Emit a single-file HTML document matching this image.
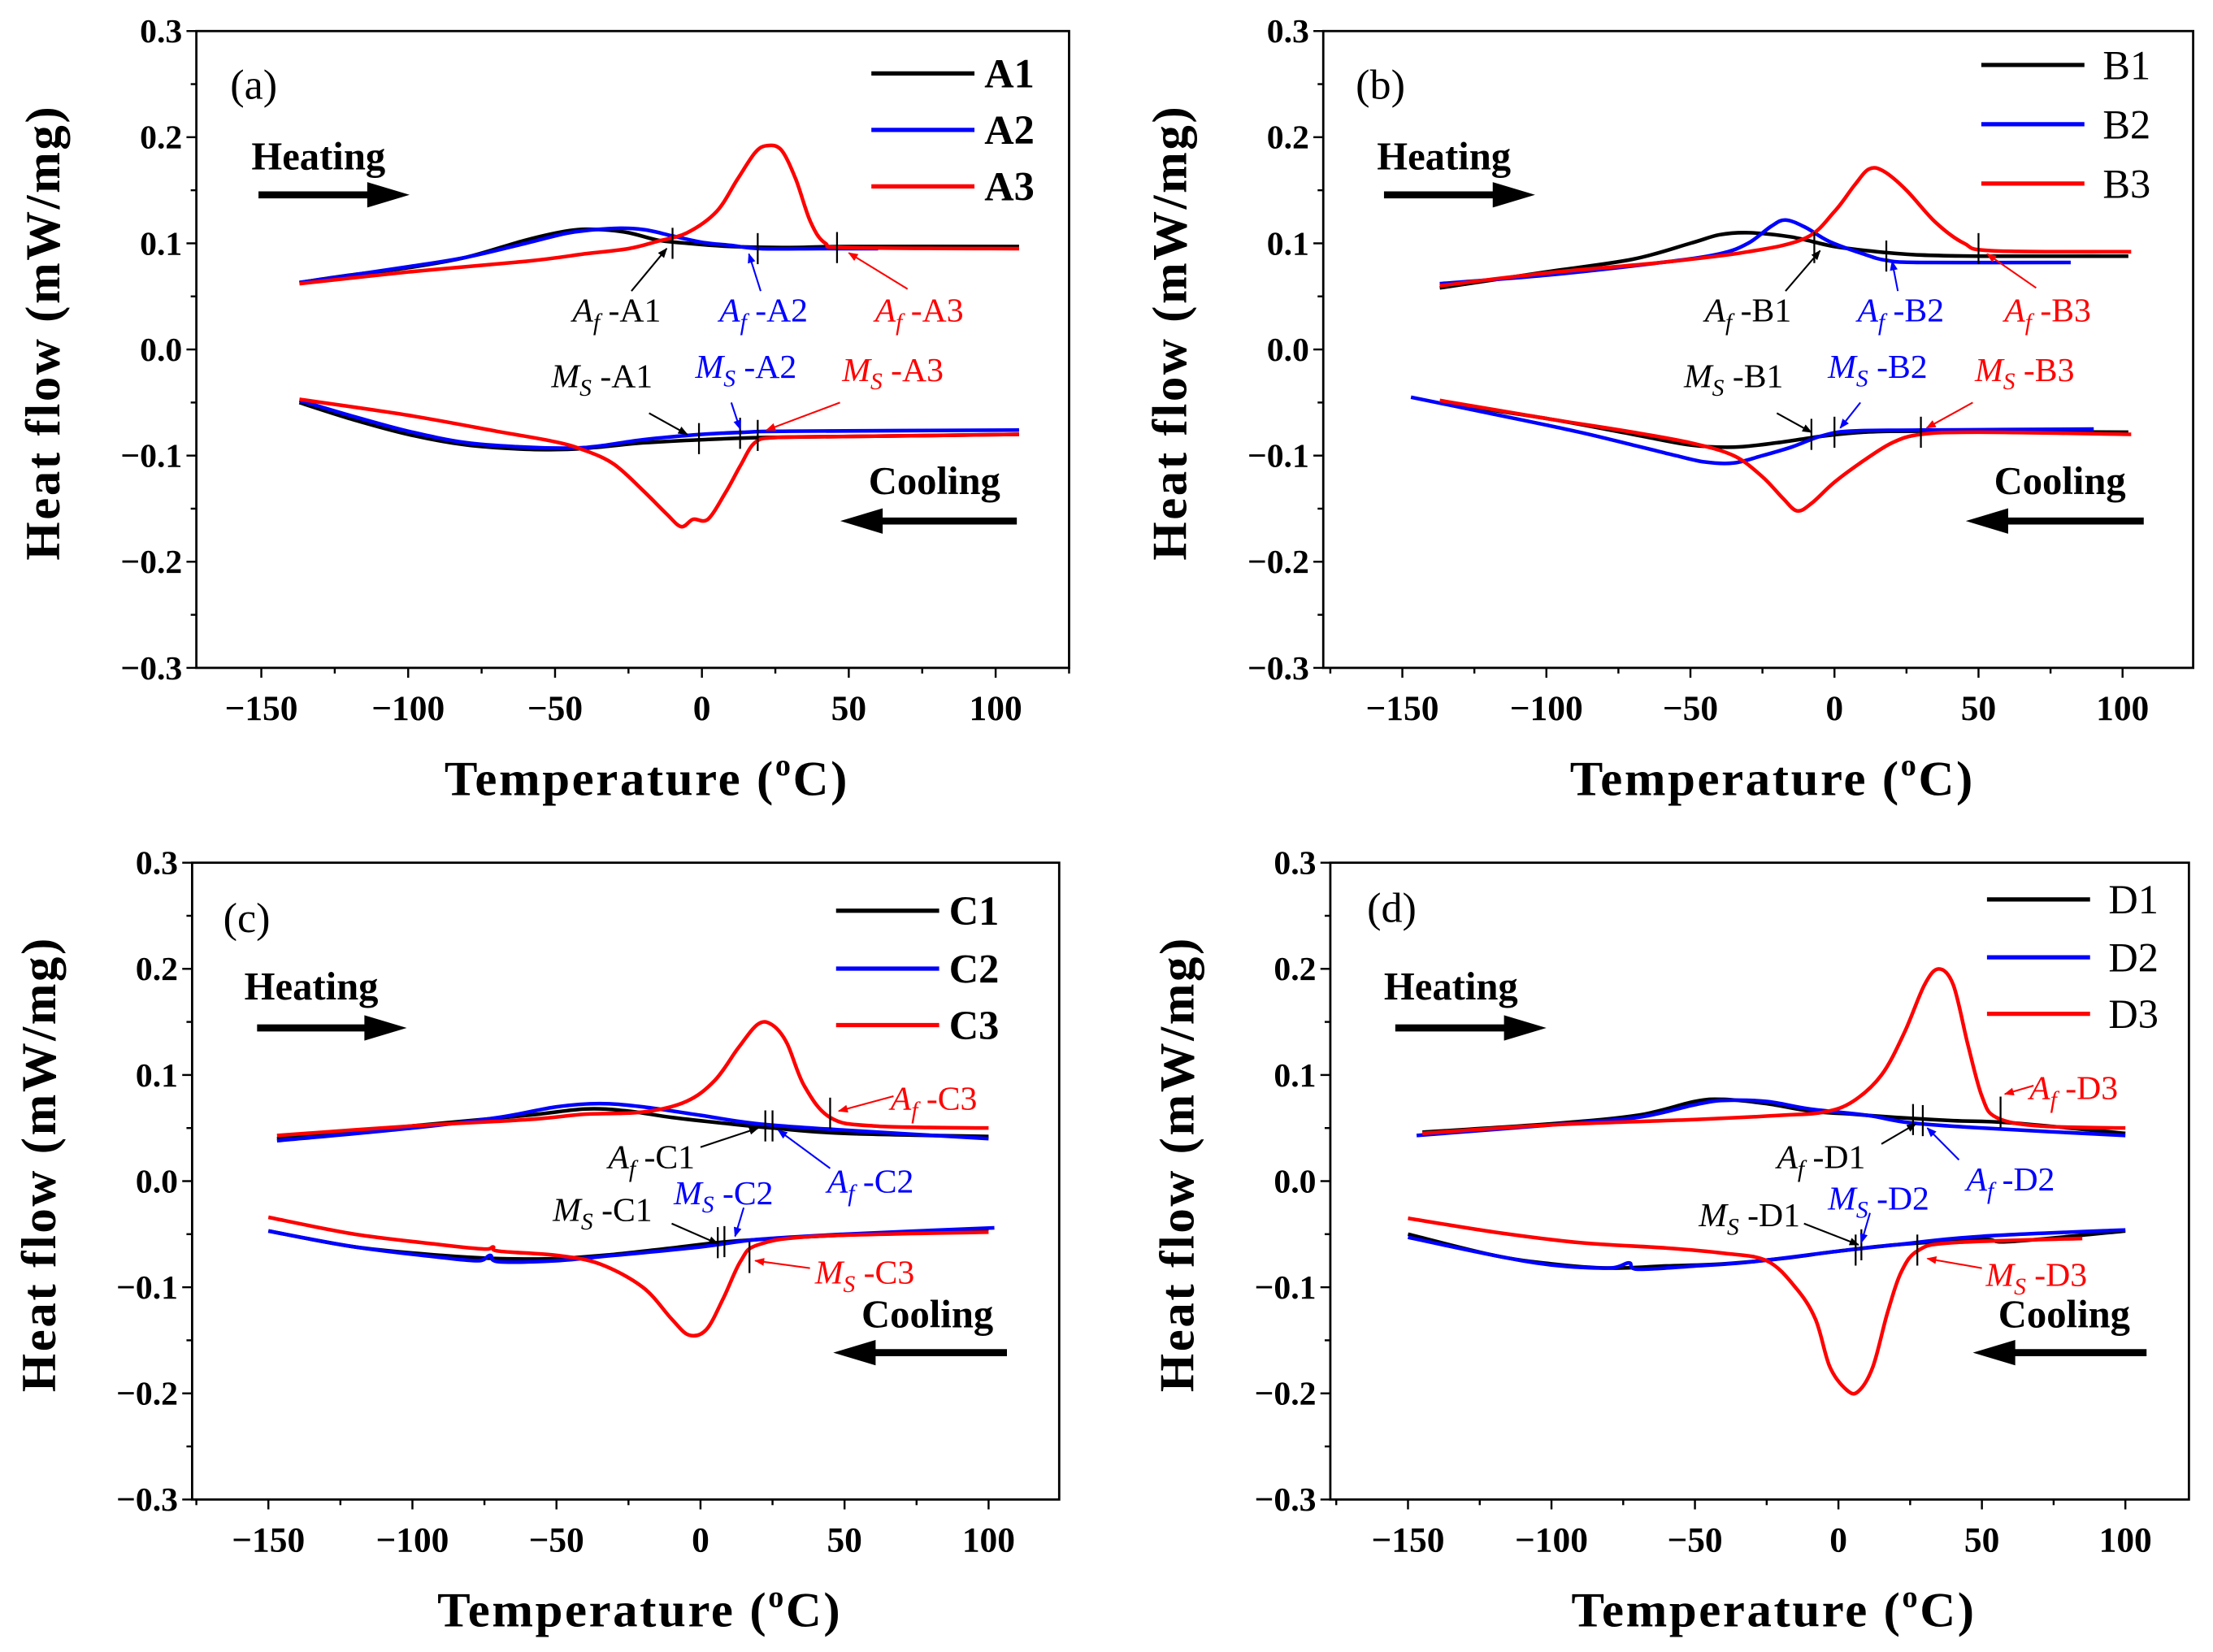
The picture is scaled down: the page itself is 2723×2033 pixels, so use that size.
<!DOCTYPE html>
<html><head><meta charset="utf-8"><style>
html,body{margin:0;padding:0;background:#fff}
svg{display:block}
text{font-family:"Liberation Serif",serif}
</style></head><body>
<svg id="fig" xmlns="http://www.w3.org/2000/svg" width="2723" height="2033" viewBox="0 0 1567 1170"></svg>
<script>
// ---- Panel (a) data ----
const tA1h=[-137,-120,-100,-80,-60,-45,-35,-25,-15,-5,10,30,50,108];
const vA1h=[0.063,0.070,0.077,0.087,0.103,0.112,0.113,0.110,0.103,0.100,0.097,0.096,0.097,0.097];
const tA2h=[-137,-100,-80,-60,-45,-30,-20,-10,0,10,20,40,60];
const vA2h=[0.063,0.078,0.087,0.100,0.110,0.114,0.113,0.107,0.101,0.098,0.095,0.095,0.095];
const tA3h=[-137,-100,-60,-40,-25,-15,-5,5,12,18,22,27,32,37,42,50,108];
const vA3h=[0.062,0.073,0.083,0.090,0.095,0.102,0.110,0.130,0.160,0.185,0.192,0.188,0.160,0.120,0.100,0.096,0.095];
const tA1c=[-137,-120,-100,-80,-60,-45,-35,-20,0,20,50,108];
const vA1c=[-0.050,-0.065,-0.080,-0.090,-0.094,-0.094,-0.092,-0.088,-0.085,-0.083,-0.082,-0.080];
const tA2c=[-137,-120,-100,-80,-60,-45,-35,-20,0,15,30,108];
const vA2c=[-0.048,-0.062,-0.077,-0.088,-0.092,-0.093,-0.091,-0.085,-0.080,-0.078,-0.077,-0.076];
const tA3c=[-137,-100,-70,-50,-40,-30,-20,-12,-7,-3,2,8,13,18,25,50,108];
const vA3c=[-0.047,-0.062,-0.077,-0.087,-0.095,-0.108,-0.133,-0.155,-0.167,-0.160,-0.160,-0.135,-0.110,-0.088,-0.083,-0.082,-0.080];
// ---- Panel (b) data ----
const tB1h=[-137,-100,-70,-50,-40,-30,-15,0,15,30,50,102];
const vB1h=[0.058,0.073,0.085,0.100,0.108,0.110,0.106,0.097,0.092,0.089,0.088,0.088];
const tB2h=[-137,-100,-60,-40,-30,-22,-17,-10,-2,10,18,30,82];
const vB2h=[0.062,0.070,0.082,0.090,0.100,0.116,0.122,0.115,0.102,0.090,0.084,0.082,0.082];
const tB3h=[-137,-100,-60,-30,-10,0,7,12,17,25,35,45,55,103];
const vB3h=[0.060,0.072,0.082,0.092,0.105,0.130,0.155,0.170,0.168,0.150,0.120,0.100,0.093,0.092];
const tB1c=[-137,-100,-70,-50,-35,-20,-5,10,30,102];
const vB1c=[-0.050,-0.065,-0.080,-0.090,-0.092,-0.088,-0.082,-0.078,-0.077,-0.078];
const tB2c=[-147,-120,-90,-70,-55,-45,-35,-25,-15,-5,5,30,90];
const vB2c=[-0.045,-0.060,-0.077,-0.090,-0.100,-0.106,-0.107,-0.100,-0.092,-0.082,-0.077,-0.076,-0.075];
const tB3c=[-137,-100,-70,-50,-35,-25,-18,-13,-8,0,10,20,30,50,103];
const vB3c=[-0.048,-0.065,-0.078,-0.088,-0.100,-0.120,-0.140,-0.152,-0.145,-0.125,-0.105,-0.088,-0.080,-0.078,-0.080];
// ---- Panel (c) data ----
const tC1h=[-147,-100,-60,-40,-25,-10,10,25,50,100];
const vC1h=[0.040,0.052,0.062,0.068,0.066,0.060,0.054,0.050,0.045,0.042];
const tC2h=[-147,-100,-70,-50,-35,-20,0,20,50,100];
const vC2h=[0.038,0.050,0.060,0.070,0.073,0.070,0.062,0.054,0.048,0.040];
const tC3h=[-147,-100,-60,-40,-20,-5,5,13,20,25,30,36,45,60,100];
const vC3h=[0.043,0.052,0.058,0.063,0.065,0.075,0.095,0.125,0.148,0.147,0.130,0.090,0.060,0.052,0.050];
const tC1c=[-150,-120,-90,-70,-50,-30,-10,10,40,100];
const vC1c=[-0.047,-0.062,-0.070,-0.073,-0.073,-0.069,-0.063,-0.057,-0.052,-0.045];
const tC2c=[-150,-120,-90,-77,-73,-70,-50,-30,0,20,50,102];
const vC2c=[-0.047,-0.062,-0.072,-0.075,-0.070,-0.076,-0.075,-0.070,-0.062,-0.055,-0.050,-0.044];
const tC3c=[-150,-120,-90,-75,-72,-70,-50,-35,-20,-10,-4,2,8,14,20,40,100];
const vC3c=[-0.034,-0.050,-0.060,-0.064,-0.062,-0.066,-0.070,-0.078,-0.100,-0.130,-0.145,-0.140,-0.110,-0.075,-0.060,-0.052,-0.048];
// ---- Panel (d) data ----
const tD1h=[-145,-100,-70,-50,-40,-25,-10,5,20,40,60,100];
const vD1h=[0.046,0.054,0.062,0.075,0.077,0.073,0.066,0.063,0.060,0.057,0.055,0.045];
const tD2h=[-147,-100,-70,-50,-40,-25,-10,10,25,50,100];
const vD2h=[0.043,0.053,0.060,0.072,0.076,0.075,0.068,0.062,0.055,0.050,0.043];
const tD3h=[-145,-100,-50,-20,-5,5,15,23,30,35,40,45,50,55,70,100];
const vD3h=[0.045,0.053,0.058,0.062,0.065,0.075,0.100,0.140,0.185,0.200,0.185,0.130,0.080,0.060,0.052,0.050];
const tD1c=[-150,-120,-100,-80,-60,-40,-20,0,20,50,60,100];
const vD1c=[-0.050,-0.070,-0.078,-0.082,-0.080,-0.078,-0.073,-0.066,-0.060,-0.055,-0.057,-0.047];
const tD2c=[-150,-120,-100,-80,-73,-70,-50,-30,0,20,50,100];
const vD2c=[-0.053,-0.070,-0.079,-0.082,-0.077,-0.083,-0.080,-0.076,-0.066,-0.060,-0.052,-0.046];
const tD3c=[-150,-120,-90,-60,-40,-25,-15,-8,-3,3,7,12,17,22,28,40,85];
const vD3c=[-0.035,-0.048,-0.058,-0.063,-0.068,-0.075,-0.100,-0.130,-0.175,-0.197,-0.198,-0.175,-0.125,-0.085,-0.065,-0.058,-0.054];
// ---- Axis tick labels ----
const xTickVals=[-150,-100,-50,0,50,100];
const yTickVals=[0.3,0.2,0.1,0.0,-0.1,-0.2,-0.3];
const yTickLabels=["0.3","0.2","0.1","0.0","\u22120.1","\u22120.2","\u22120.3"];
const xTickLabels=["\u2212150","\u2212100","\u221250","0","50","100"];

const NS="http://www.w3.org/2000/svg";
const svg=document.getElementById('fig');
const COLORS=['#000','#0000ff','#ff0000'];
function mk(tag,attrs,parent){const e=document.createElementNS(NS,tag);for(const k in attrs)e.setAttribute(k,attrs[k]);(parent||svg).appendChild(e);return e;}
function smoothPath(pts){
 let d='M'+pts[0][0].toFixed(1)+','+pts[0][1].toFixed(1);
 for(let i=0;i<pts.length-1;i++){
  const p0=pts[i-1]||pts[i],p1=pts[i],p2=pts[i+1],p3=pts[i+2]||p2;
  const c1x=p1[0]+(p2[0]-p0[0])/6,c1y=p1[1]+(p2[1]-p0[1])/6;
  const c2x=p2[0]-(p3[0]-p1[0])/6,c2y=p2[1]-(p3[1]-p1[1])/6;
  d+=` C${c1x.toFixed(1)},${c1y.toFixed(1)} ${c2x.toFixed(1)},${c2y.toFixed(1)} ${p2[0].toFixed(1)},${p2[1].toFixed(1)}`;
 }
 return d;
}

const panels=[
 {id:'a',L:139,R:757,T:22,B:473,x150:185,x100:705,bold:true,
  heat:[[tA1h,vA1h],[tA2h,vA2h],[tA3h,vA3h]],cool:[[tA1c,vA1c],[tA2c,vA2c],[tA3c,vA3c]],
  names:['A1','A2','A3'],legX:617,legY:[52,92,132],lab:[163,62],heatT:[178,120],heatA:[183,290,138],coolT:[615,350],coolA:[720,595,369],
  ann:[
   {k:'A',s:'-A1',c:0,tx:-29,ty:0.037,a:[-24,0.055,-12,0.095],m:[-10,0.100]},
   {k:'A',s:'-A2',c:1,tx:21,ty:0.037,a:[20,0.055,16,0.090],m:[19,0.095]},
   {k:'A',s:'-A3',c:2,tx:74,ty:0.037,a:[70,0.057,50,0.091],m:[46,0.096]},
   {k:'M',s:'-A1',c:0,tx:-34,ty:-0.025,a:[-18,-0.060,-5,-0.080],m:[-1,-0.084]},
   {k:'M',s:'-A2',c:1,tx:15,ty:-0.016,a:[10,-0.050,13,-0.075],m:[13,-0.079]},
   {k:'M',s:'-A3',c:2,tx:65,ty:-0.019,a:[47,-0.050,22,-0.076],m:[19,-0.081]}]},
 {id:'b',L:937,R:1553,T:22,B:473,x150:993,x100:1503,bold:false,
  heat:[[tB1h,vB1h],[tB2h,vB2h],[tB3h,vB3h]],cool:[[tB1c,vB1c],[tB2c,vB2c],[tB3c,vB3c]],
  names:['B1','B2','B3'],legX:1403,legY:[46,88,130],lab:[960,62],heatT:[975,120],heatA:[980,1087,138],coolT:[1412,350],coolA:[1518,1392,369],
  ann:[
   {k:'A',s:'-B1',c:0,tx:-30,ty:0.037,a:[-17,0.055,-5,0.093],m:[-7,0.096]},
   {k:'A',s:'-B2',c:1,tx:23,ty:0.037,a:[22,0.055,20,0.083],m:[18,0.088]},
   {k:'A',s:'-B3',c:2,tx:74,ty:0.037,a:[70,0.058,53,0.090],m:[50,0.095]},
   {k:'M',s:'-B1',c:0,tx:-35,ty:-0.025,a:[-20,-0.060,-8,-0.078],m:[-8,-0.080]},
   {k:'M',s:'-B2',c:1,tx:15,ty:-0.016,a:[9,-0.050,2,-0.074],m:[0,-0.078]},
   {k:'M',s:'-B3',c:2,tx:66,ty:-0.019,a:[48,-0.050,32,-0.074],m:[30,-0.078]}]},
 {id:'c',L:136,R:750,T:611,B:1062,x150:190,x100:700,bold:true,
  heat:[[tC1h,vC1h],[tC2h,vC2h],[tC3h,vC3h]],cool:[[tC1c,vC1c],[tC2c,vC2c],[tC3c,vC3c]],
  names:['C1','C2','C3'],legX:592,legY:[645,686,726],lab:[158,652],heatT:[173,708],heatA:[182,288,728],coolT:[610,940],coolA:[713,590,958],
  ann:[
   {k:'A',s:'-C1',c:0,tx:-17,ty:0.023,a:[0,0.032,20,0.050],m:[22.5,0.052]},
   {k:'A',s:'-C2',c:1,tx:59,ty:0.000,a:[45,0.012,27,0.048],m:[25,0.052]},
   {k:'A',s:'-C3',c:2,tx:81,ty:0.078,a:[67,0.080,48,0.066],m:[45,0.064]},
   {k:'M',s:'-C1',c:0,tx:-34,ty:-0.027,a:[-10,-0.040,6,-0.059],m:[6,-0.058]},
   {k:'M',s:'-C2',c:1,tx:8,ty:-0.011,a:[15,-0.025,12,-0.052],m:[8.3,-0.057]},
   {k:'M',s:'-C3',c:2,tx:57,ty:-0.086,a:[38,-0.082,19,-0.075],m:[17,-0.072]}]},
 {id:'d',L:942,R:1550,T:611,B:1062,x150:997,x100:1505,bold:false,
  heat:[[tD1h,vD1h],[tD2h,vD2h],[tD3h,vD3h]],cool:[[tD1c,vD1c],[tD2c,vD2c],[tD3c,vD3c]],
  names:['D1','D2','D3'],legX:1407,legY:[637,678,718],lab:[968,645],heatT:[980,708],heatA:[988,1095,728],coolT:[1415,940],coolA:[1520,1397,958],
  ann:[
   {k:'A',s:'-D1',c:0,tx:-6,ty:0.023,a:[15,0.035,27,0.054],m:[26,0.058]},
   {k:'A',s:'-D2',c:1,tx:60,ty:0.002,a:[42,0.020,31,0.050],m:[29.4,0.057]},
   {k:'A',s:'-D3',c:2,tx:82,ty:0.088,a:[68,0.090,58,0.082],m:[56.5,0.065]},
   {k:'M',s:'-D1',c:0,tx:-31,ty:-0.032,a:[-12,-0.040,7,-0.060],m:[6,-0.065]},
   {k:'M',s:'-D2',c:1,tx:14,ty:-0.016,a:[11,-0.030,8,-0.058],m:[8,-0.060]},
   {k:'M',s:'-D3',c:2,tx:69,ty:-0.088,a:[50,-0.082,31,-0.073],m:[27.5,-0.065]}]}
];

const defs=mk('defs',{});
['#000','#0000ff','#ff0000'].forEach((c,i)=>{
 const m=mk('marker',{id:'ah'+i,viewBox:'0 0 10 10',refX:'9',refY:'5',markerWidth:'7',markerHeight:'7',orient:'auto-start-reverse',markerUnits:'userSpaceOnUse'},defs);
 mk('path',{d:'M0,1 L10,5 L0,9 z',fill:c},m);
});

panels.forEach(p=>{
 const g=mk('g',{});
 
 
 const sx=(p.x100-p.x150)/250;
 const X=t=>p.x150+(t+150)*sx;
 const Y=v=>p.T+(0.3-v)/0.6*(p.B-p.T);
 const fr=mk('rect',{x:p.L,y:p.T,width:p.R-p.L,height:p.B-p.T,fill:'none',stroke:'#000','stroke-width':1.6},g);
 
 
 for(let t=-175;t<=125;t+=25){const px=X(t);if(px<p.L-0.5||px>p.R+0.5)continue;const major=(t%50===0);
  mk('line',{x1:px,x2:px,y1:p.B,y2:p.B+(major?7:4),stroke:'#000','stroke-width':1.4},g);}
 xTickVals.forEach((t,i)=>{const tx=mk('text',{x:X(t),y:p.B+37,'text-anchor':'middle','font-size':25,'font-weight':'bold'},g);tx.textContent=xTickLabels[i];
  
  });
 for(let k=0;k<=12;k++){const v=0.3-k*0.05;const py=Y(v);const major=(k%2===0);
  mk('line',{x1:p.L,x2:p.L-(major?7:4),y1:py,y2:py,stroke:'#000','stroke-width':1.4},g);}
 yTickVals.forEach((v,i)=>{const tx=mk('text',{x:p.L-10,y:Y(v)+8,'text-anchor':'end','font-size':24,'font-weight':'bold'},g);tx.textContent=yTickLabels[i];
  
  });
 const cx=(p.L+p.R)/2+10;
 const xt=mk('text',{x:cx,y:p.B+90,'text-anchor':'middle','font-size':35,'font-weight':'bold','letter-spacing':'1.5'},g);
 xt.innerHTML='Temperature (<tspan dy="-14" font-size="22">o</tspan><tspan dy="14">C)</tspan>';
 
 
 const yx=p.L-97, yy=(p.T+p.B)/2-12;
 const yt=mk('text',{x:yx,y:yy,'text-anchor':'middle','font-size':35,'font-weight':'bold','letter-spacing':'1.5',transform:`rotate(-90 ${yx} ${yy})`},g);
 yt.textContent='Heat flow (mW/mg)';
 
 
 const pl=mk('text',{x:p.lab[0],y:p.lab[1]+8,'font-size':30},g);pl.textContent='('+p.id+')';
 
 
 const drawS=(arr,kind)=>arr.forEach((s,i)=>{const pts=s[0].map((t,j)=>[X(t),Y(s[1][j])]);
  const pa=mk('path',{d:smoothPath(pts),fill:'none',stroke:COLORS[i],'stroke-width':2.6,'stroke-linejoin':'round'},g);
  
  });
 drawS(p.heat,'heating');drawS(p.cool,'cooling');
 p.names.forEach((n,i)=>{const ly=p.legY[i];
  const ll=mk('line',{x1:p.legX,x2:p.legX+73,y1:ly,y2:ly,stroke:COLORS[i],'stroke-width':3},g);
  
  
  const lt=mk('text',{x:p.legX+(p.bold?80:86),y:ly+10,'font-size':29,'font-weight':p.bold?'bold':'normal'},g);lt.textContent=n;
  
  });
 const ht=mk('text',{x:p.heatT[0],y:p.heatT[1],'font-size':28,'font-weight':'bold'},g);ht.textContent='Heating';
 
 
 const ha=p.heatA;
 mk('line',{x1:ha[0],x2:ha[1]-22,y1:ha[2],y2:ha[2],stroke:'#000','stroke-width':5},g);
 const hh=mk('path',{d:`M${ha[1]-30},${ha[2]-9} L${ha[1]},${ha[2]} L${ha[1]-30},${ha[2]+9} z`,fill:'#000'},g);
 
 
 const ct=mk('text',{x:p.coolT[0],y:p.coolT[1],'font-size':28,'font-weight':'bold'},g);ct.textContent='Cooling';
 
 
 const ca=p.coolA;
 mk('line',{x1:ca[0],x2:ca[1]+22,y1:ca[2],y2:ca[2],stroke:'#000','stroke-width':5},g);
 const ch=mk('path',{d:`M${ca[1]+30},${ca[2]-9} L${ca[1]},${ca[2]} L${ca[1]+30},${ca[2]+9} z`,fill:'#000'},g);
 
 
 p.ann.forEach(a=>{const col=COLORS[a.c];
  const mxp=X(a.m[0]),myp=Y(a.m[1]);
  mk('line',{x1:mxp,x2:mxp,y1:myp-11,y2:myp+11,stroke:'#000','stroke-width':1.3},g);
  const ar=mk('line',{x1:X(a.a[0]),y1:Y(a.a[1]),x2:X(a.a[2]),y2:Y(a.a[3]),stroke:col,'stroke-width':1.2,'marker-end':'url(#ah'+a.c+')'},g);
  
  
  const t=mk('text',{x:X(a.tx),y:Y(a.ty)+8,'text-anchor':'middle','font-size':24,fill:col},g);
  const sub=a.k==='A'?'f':'S';
  t.innerHTML=`<tspan font-style="italic">${a.k}</tspan><tspan font-style="italic" font-size="17" dy="6">${sub}</tspan><tspan dy="-6"> ${a.s}</tspan>`;
  
  
 });
});
</script>
</body></html>
